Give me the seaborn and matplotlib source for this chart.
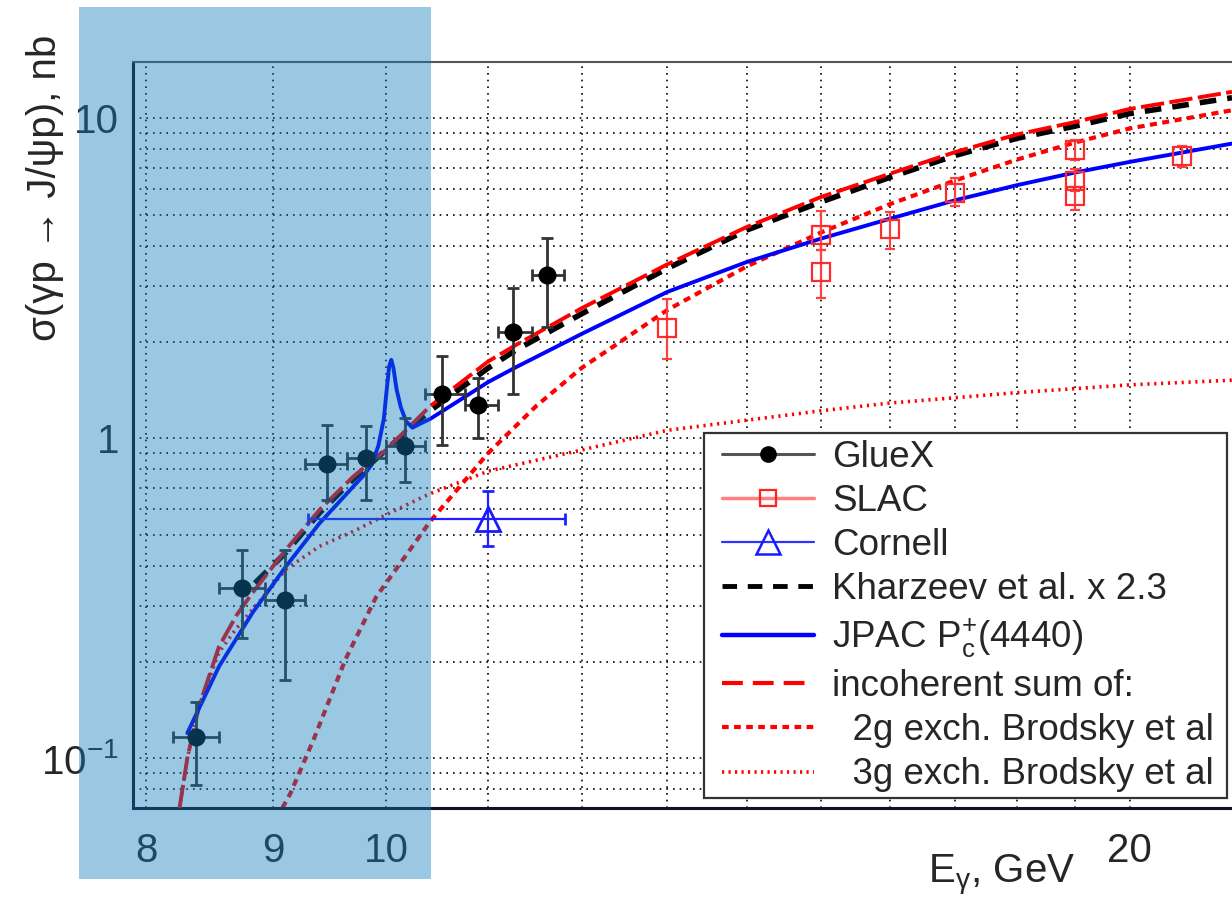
import matplotlib
matplotlib.use("Agg")
import matplotlib.pyplot as plt
from matplotlib.lines import Line2D
from matplotlib.patches import Rectangle
from matplotlib.ticker import FixedLocator, FixedFormatter, NullFormatter
import numpy as np
import seaborn as sns

# GlueX points: energy (centre, low, high) and cross section (centre, low, high)
gluex_e = [8.38, 8.745, 9.10, 9.465, 9.82, 10.18, 10.54, 10.90, 11.26, 11.62]
gluex_e_lo = [8.20, 8.56, 8.93, 9.27, 9.64, 10.00, 10.37, 10.76, 11.10, 11.46]
gluex_e_hi = [8.56, 8.93, 9.27, 9.64, 10.00, 10.37, 10.76, 11.10, 11.46, 11.81]
gluex_s = [0.1165, 0.342, 0.313, 0.833, 0.867, 0.947, 1.38, 1.27, 2.155, 3.24]
gluex_s_lo = [0.0825, 0.238, 0.176, 0.643, 0.643, 0.733, 0.955, 1.00, 1.377, 2.23]
gluex_s_hi = [0.150, 0.449, 0.449, 1.10, 1.09, 1.16, 1.81, 1.545, 2.95, 4.24]

# SLAC points
slac_e = [13.0, 15.0, 15.0, 16.0, 17.0, 19.0, 19.0, 19.0, 21.0]
slac_s = [2.22, 3.30, 4.31, 4.50, 5.85, 7.95, 6.35, 5.72, 7.65]
slac_s_lo = [1.77, 2.74, 3.88, 3.90, 5.32, 7.40, 5.95, 5.17, 7.05]
slac_s_hi = [2.72, 3.88, 5.13, 5.10, 6.49, 8.55, 6.95, 6.10, 8.20]

# Cornell point
cornell_e = [11.0]
cornell_e_lo = [9.30]
cornell_e_hi = [11.82]
cornell_s = [0.56]
cornell_s_lo = [0.46]
cornell_s_hi = [0.685]

# model curves
kharzeev_e = [8.85, 9.11, 9.40, 9.70, 10.0, 10.42, 11.0, 11.29, 12.0, 13.0, 14.0,
              15.0, 16.0, 17.0, 18.0, 19.0, 20.0, 22.0]
kharzeev_s = [0.353, 0.44, 0.585, 0.745, 0.92, 1.22, 1.66, 1.89, 2.45, 3.40, 4.48,
              5.48, 6.55, 7.66, 8.66, 9.45, 10.35, 11.6]

jpac_e = [8.31, 8.56, 8.83, 9.11, 9.40, 9.70, 9.80, 9.87, 9.93, 9.98, 10.01, 10.03,
          10.05, 10.07, 10.10, 10.14, 10.19, 10.25, 10.32, 10.42, 11.0, 11.29, 12.0,
          13.0, 14.0, 15.0, 16.0, 17.0, 18.0, 19.0, 20.0, 22.0]
jpac_s = [0.12, 0.194, 0.285, 0.398, 0.543, 0.707, 0.77, 0.83, 0.95, 1.15, 1.45, 1.68,
          1.76, 1.66, 1.42, 1.25, 1.13, 1.08, 1.11, 1.15, 1.50, 1.67, 2.12,
          2.87, 3.56, 4.21, 4.86, 5.55, 6.18, 6.77, 7.31, 8.34]

incoh_e = [8.25, 8.31, 8.40, 8.56, 8.70, 8.83, 9.11, 9.40, 9.70, 10.0, 10.42, 11.0,
           11.29, 12.0, 13.0, 14.0, 15.0, 16.0, 17.0, 18.0, 19.0, 20.0, 22.0]
incoh_s = [0.07, 0.10, 0.145, 0.224, 0.28, 0.329, 0.449, 0.598, 0.76, 0.92, 1.26, 1.74,
           1.96, 2.55, 3.50, 4.58, 5.68, 6.72, 7.85, 8.9, 9.73, 10.7, 12.1]

g2_e = [9.08, 9.15, 9.35, 9.63, 9.91, 10.25, 10.42, 11.0, 11.5, 12.0, 13.0, 14.0,
        15.0, 16.0, 17.0, 18.0, 19.0, 20.0, 22.0]
g2_s = [0.07, 0.078, 0.115, 0.204, 0.32, 0.46, 0.55, 0.90, 1.26, 1.66, 2.52, 3.45,
        4.40, 5.40, 6.40, 7.43, 8.40, 9.30, 10.6]

g3_e = [8.25, 8.31, 8.40, 8.56, 8.70, 8.92, 9.11, 9.40, 9.70, 10.0, 10.42, 11.0, 12.0,
        13.0, 14.0, 15.0, 16.0, 17.0, 18.0, 19.0, 20.0, 22.0]
g3_s = [0.07, 0.10, 0.145, 0.215, 0.255, 0.32, 0.39, 0.46, 0.512, 0.577, 0.672, 0.79,
        0.92, 1.06, 1.14, 1.22, 1.29, 1.34, 1.39, 1.43, 1.47, 1.52]

legend_labels = ["GlueX", "SLAC", "Cornell", "Kharzeev et al. x 2.3",
                 r"JPAC P$_{\mathrm{c}}^{+}$(4440)", "incoherent sum of:",
                 "  2g exch. Brodsky et al", "  3g exch. Brodsky et al"]

x_major = [8, 9, 10, 20]
x_major_labels = ["8", "9", "10", "20"]
x_minor = [11, 12, 13, 14, 15, 16, 17, 18, 19]
y_major = [0.1, 1, 10]
y_major_labels = [r"$10^{\mathrm{-1}}$", "1", "10"]
y_minor = [0.08, 0.09, 0.2, 0.3, 0.4, 0.5, 0.6, 0.7, 0.8, 0.9,
           2, 3, 4, 5, 6, 7, 8, 9]

sns.set_style("white")
plt.rcParams['font.family'] = ['Liberation Sans', 'DejaVu Sans']
plt.rcParams['mathtext.fontset'] = 'custom'
plt.rcParams['mathtext.rm'] = 'Liberation Sans'
plt.rcParams['mathtext.it'] = 'Liberation Sans:italic'
plt.rcParams['mathtext.sf'] = 'Liberation Sans'

fig = plt.figure(figsize=(12.32, 9), dpi=100)
ax = fig.add_axes([133 / 1232, 92 / 900, 1099 / 1232, 746 / 900])
ax.set_xscale('log')
ax.set_yscale('log')
ax.set_xlim(7.9, 22.0)
ax.set_ylim(0.07, 15)

# grid
ax.xaxis.set_major_locator(FixedLocator(x_major))
ax.xaxis.set_major_formatter(FixedFormatter(x_major_labels))
ax.xaxis.set_minor_locator(FixedLocator(x_minor))
ax.xaxis.set_minor_formatter(NullFormatter())
ax.yaxis.set_major_locator(FixedLocator(y_major))
ax.yaxis.set_major_formatter(FixedFormatter(y_major_labels))
ax.yaxis.set_minor_locator(FixedLocator(y_minor))
ax.yaxis.set_minor_formatter(NullFormatter())
ax.grid(which='both', color='black', linestyle=(0, (1, 3)), linewidth=1.2)
ax.set_axisbelow(True)

ax.tick_params(axis='x', which='major', direction='in', length=8.5, width=1.5,
               labelsize=29, pad=17, top=False)
ax.tick_params(axis='x', which='minor', direction='in', length=4.3, width=1.2, top=False)
ax.tick_params(axis='y', which='major', direction='in', length=23, width=1.5,
               labelsize=29, pad=10, right=False)
ax.tick_params(axis='y', which='minor', direction='in', length=9.5, width=1.5, right=False)

for side in ['left', 'bottom']:
    ax.spines[side].set_linewidth(2.2)
    ax.spines[side].set_color('#111122')
ax.spines['top'].set_linewidth(1.5)
ax.spines['top'].set_color('#555555')
ax.spines['right'].set_visible(False)

# model curves
sns.lineplot(x=g3_e, y=g3_s, ax=ax, color='#ff0000', linewidth=2.6,
             linestyle=(0, (0.6, 1.3)), estimator=None, zorder=2)
sns.lineplot(x=g2_e, y=g2_s, ax=ax, color='#ff0000', linewidth=3,
             linestyle=(0, (1.7, 1.3)), estimator=None, zorder=2)
sns.lineplot(x=kharzeev_e, y=kharzeev_s, ax=ax, color='black', linewidth=4,
             linestyle=(0, (3, 2)), estimator=None, zorder=3)
sns.lineplot(x=incoh_e, y=incoh_s, ax=ax, color='#ff0000', linewidth=2.8,
             linestyle=(0, (6, 1.4)), estimator=None, zorder=3)
sns.lineplot(x=jpac_e, y=jpac_s, ax=ax, color='#0000ff', linewidth=2.8,
             estimator=None, zorder=4)

# data points
ge = np.array(gluex_e)
gs = np.array(gluex_s)
ax.errorbar(ge, gs, xerr=[ge - np.array(gluex_e_lo), np.array(gluex_e_hi) - ge],
            yerr=[gs - np.array(gluex_s_lo), np.array(gluex_s_hi) - gs],
            fmt='o', color='black', ecolor='#333333', elinewidth=2, capsize=4,
            capthick=2, markersize=12, zorder=6)

se = np.array(slac_e)
ss = np.array(slac_s)
ax.errorbar(se, ss, yerr=[ss - np.array(slac_s_lo), np.array(slac_s_hi) - ss],
            fmt='s', mfc='none', mec='#ff2a2a', ecolor='#ff4040', elinewidth=1.6,
            capsize=3.5, capthick=1.6, markersize=12.5, markeredgewidth=1.6, zorder=6)

ce = np.array(cornell_e)
cs = np.array(cornell_s)
ax.errorbar(ce, cs, xerr=[ce - np.array(cornell_e_lo), np.array(cornell_e_hi) - ce],
            yerr=[cs - np.array(cornell_s_lo), np.array(cornell_s_hi) - cs],
            fmt='^', mfc='none', mec='#1a1aff', ecolor='#2020ff', elinewidth=1.6,
            capsize=4, capthick=1.6, markersize=17, markeredgewidth=2, zorder=6)

# legend: separate frame so the entries can sit a little further in
box_x, box_y, box_w, box_h = 0.5196, 0.0134, 0.4758, 0.4893
ax.add_patch(Rectangle((box_x, box_y), box_w, box_h, transform=ax.transAxes,
                       facecolor='white', edgecolor='#333333', linewidth=1.6,
                       zorder=9))
handles = [
    Line2D([], [], color='#555555', lw=2.2, marker='o', mfc='black', mec='black', ms=11),
    Line2D([], [], color='#ff8080', lw=2.5, marker='s', mfc='none', mec='#ff2020',
           ms=12, mew=1.6),
    Line2D([], [], color='#3030ff', lw=1.6, marker='^', mfc='none', mec='#1a1aff',
           ms=17, mew=1.8),
    Line2D([], [], color='black', lw=3.5, linestyle=(0, (3, 2.2))),
    Line2D([], [], color='#0000ff', lw=3.2),
    Line2D([], [], color='#ff0000', lw=3, linestyle=(0, (5, 2.4))),
    Line2D([], [], color='#ff0000', lw=3, linestyle=(0, (1.6, 1.3))),
    Line2D([], [], color='#ff0000', lw=2.6, linestyle=(0, (0.6, 1.2))),
]
shift = 12 / 1099
leg = ax.legend(handles, legend_labels, loc='lower left',
                bbox_to_anchor=(box_x + shift, box_y, box_w - shift, box_h), mode='expand',
                fontsize=26.5, frameon=False, borderpad=0.15, labelspacing=0.25,
                handlelength=2.5, handletextpad=0.5, numpoints=1,
                borderaxespad=0)
leg.set_zorder(10)

# axis titles
fig.text(45 / 1232, 1 - 35 / 900, "σ(γp → J/ψp), nb", rotation=90, ha='center',
         va='top', fontsize=29)
fig.text(1075 / 1232, 1 - 882 / 900, r"E$_{\mathrm{\gamma}}$, GeV", ha='right',
         va='baseline', fontsize=29)

# translucent highlight box
fig.add_artist(Rectangle((79 / 1232, 21 / 900), 352 / 1232, 872 / 900,
                         transform=fig.transFigure, facecolor=(15 / 255, 122 / 255, 184 / 255),
                         alpha=0.42, edgecolor='none', zorder=20))

fig.savefig("out.png", dpi=100)
